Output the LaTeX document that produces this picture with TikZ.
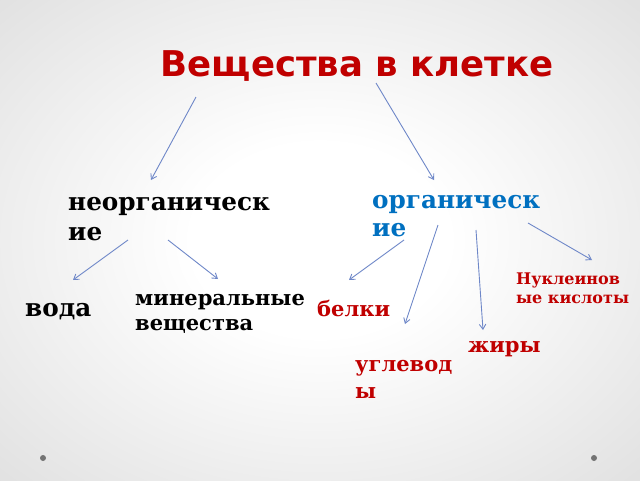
\documentclass[tikz,border=0pt]{standalone}
\usepackage{fontspec}
\setmainfont{DejaVu Serif}
\newfontfamily\titlefont{DejaVu Sans}
\usetikzlibrary{arrows.meta}
\definecolor{titlered}{HTML}{C00000}
\definecolor{orgblue}{HTML}{0070C0}
\definecolor{arrowblue}{HTML}{6E87C8}
\pgfdeclareradialshading{slidebg}{\pgfpoint{0bp}{0bp}}{%
  color(0bp)=(white); color(10bp)=(white); color(45bp)=(black!16); color(70bp)=(black!20)}
\tikzset{%
  word/.style={inner sep=0pt, anchor=base west, align=left, font=\bfseries\fontsize{24.7}{30}\selectfont},
  small word/.style={word, font=\bfseries\fontsize{21}{25}\selectfont},
  tiny word/.style={word, font=\bfseries\fontsize{16}{19}\selectfont},
  link/.style={arrowblue, line width=0.9pt, -{Straight Barb[length=5pt,width=6.5pt]}},
  dot/.style={circle, fill=black!55, inner sep=0pt, minimum size=6pt}
}
\begin{document}
\begin{tikzpicture}[x=1pt, y=-1pt]

  \shade[shading=slidebg] (0,0) rectangle (640,480);
  \useasboundingbox (0,0) rectangle (640,480);

  \node[inner sep=0pt, text=titlered, font=\titlefont\bfseries\fontsize{35.5}{42}\selectfont]
    (title) at (357,66) {Вещества в клетке};

  % multi-line nodes sit on the baseline of their last line
  \node[word] (inorg) at (68,240) {неорганическ\\ие};
  \node[word, text=orgblue, font=\bfseries\fontsize{24.7}{28}\selectfont] (org) at (372,236) {органическ\\ие};

  \node[word] (water) at (25,316) {вода};
  \node[small word] (mineral) at (135,330) {минеральные\\вещества};

  \node[small word, text=titlered] (protein) at (317,316) {белки};
  \node[small word, text=titlered, font=\bfseries\fontsize{21}{27}\selectfont] (carb) at (355,398) {углевод\\ы};
  \node[small word, text=titlered] (fat) at (468,352) {жиры};
  \node[tiny word, text=titlered] (nucl) at (516,303) {Нуклеинов\\ые кислоты};

  % arrow ends
  \coordinate (t1) at (196,97);   \coordinate (i0) at (151,180);
  \coordinate (t2) at (376,83);   \coordinate (o0) at (434,180);
  \coordinate (i1) at (128,240);  \coordinate (w0) at (73,280);
  \coordinate (i2) at (168,240);  \coordinate (m0) at (218,279);
  \coordinate (o1) at (404,240);  \coordinate (p0) at (349,280);
  \coordinate (o2) at (438,225);  \coordinate (c0) at (405,324);
  \coordinate (o3) at (476,230);  \coordinate (f0) at (483,330);
  \coordinate (o4) at (528,223);  \coordinate (n0) at (592,260);

  \foreach \a/\b in {t1/i0, t2/o0, i1/w0, i2/m0, o1/p0, o2/c0, o3/f0, o4/n0}
    \draw[link] (\a) -- (\b);

  \node[dot] (dotl) at (43,458) {};
  \node[dot] (dotr) at (594,458) {};

\end{tikzpicture}
\end{document}
